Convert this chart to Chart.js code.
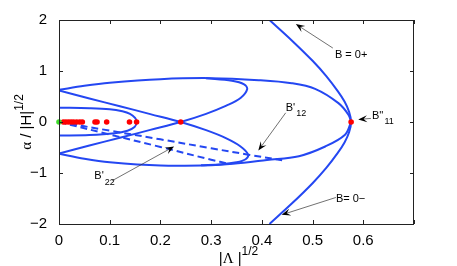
<!DOCTYPE html>
<html>
<head>
<meta charset="utf-8">
<script src="https://cdn.jsdelivr.net/npm/chart.js@4"></script>
<style>
  html, body { margin: 0; padding: 0; background: #fff; }
</style>
</head>
<body>
<canvas id="chart" width="457" height="266"></canvas>
<script>
// curves, x = |Lambda|^(1/2), y = alpha/|H|^(1/2)
const bZeroX = [0.415, 0.459, 0.500, 0.527, 0.550, 0.563, 0.572, 0.576, 0.572, 0.563, 0.550, 0.527, 0.500, 0.459, 0.415];
const bZeroY = [2.0, 1.6, 1.2, 0.9, 0.6, 0.4, 0.2, 0, -0.2, -0.4, -0.6, -0.9, -1.2, -1.6, -2.0];

const lensUpX = [0, 0.05, 0.1, 0.2, 0.3, 0.394, 0.459, 0.505, 0.551, 0.571, 0.576];
const lensUpY = [0.63, 0.71, 0.77, 0.84, 0.86, 0.82, 0.76, 0.65, 0.37, 0.14, 0];

const lensLowX = [0, 0.05, 0.1, 0.2, 0.3, 0.343, 0.41, 0.473, 0.525, 0.564, 0.576];
const lensLowY = [-0.62, -0.72, -0.79, -0.855, -0.85, -0.82, -0.745, -0.67, -0.48, -0.25, 0];

const crossDownX = [0, 0.06, 0.12, 0.18, 0.24, 0.29, 0.33, 0.358, 0.373, 0.368, 0.35, 0.32, 0.28];
const crossDownY = [0.62, 0.46, 0.31, 0.155, 0, -0.16, -0.32, -0.48, -0.64, -0.73, -0.79, -0.83, -0.85];

const crossUpX = [0, 0.06, 0.12, 0.18, 0.24, 0.29, 0.33, 0.358, 0.371, 0.365, 0.341, 0.29];
const crossUpY = [-0.62, -0.46, -0.31, -0.155, 0, 0.16, 0.32, 0.47, 0.64, 0.74, 0.81, 0.86];

const innerX = [0, 0.06, 0.1, 0.125, 0.14, 0.15, 0.153, 0.149, 0.135, 0.11, 0.06, 0];
const innerY = [0.28, 0.27, 0.25, 0.21, 0.16, 0.08, 0, -0.1, -0.17, -0.22, -0.255, -0.265];

const dashUpX = [0, 0.1, 0.2, 0.3, 0.373, 0.44];
const dashUpY = [0, -0.17, -0.34, -0.515, -0.64, -0.75];

const dashLowX = [0, 0.1, 0.2, 0.3, 0.335];
const dashLowY = [0, -0.245, -0.49, -0.74, -0.82];

const bifurcX = [0.0085, 0.0137, 0.019, 0.024, 0.029, 0.035, 0.041, 0.046, 0.071, 0.075, 0.094, 0.139, 0.153, 0.240, 0.576];
const bifurcY = [0, 0, 0, 0, 0, 0, 0, 0, 0, 0, 0, 0, 0, 0, 0];
const originX = [0];
const originY = [0];

const xTicks = [0, 0.1, 0.2, 0.3, 0.4, 0.5, 0.6, 0.7];
const yTicks = [-2, -1, 0, 1, 2];

// labels with arrows: text position, arrow tail, arrow head (data units)
const notes = [
    {main: 'B = 0+', sub: '', at: [0.544, 1.31], tail: [0.540, 1.45], head: [0.467, 1.92]},
    {main: "B'", sub: '12', at: [0.447, 0.28], tail: [0.447, 0.18], head: [0.393, -0.56]},
    {main: "B''", sub: '11', at: [0.617, 0.12], tail: [0.615, 0.07], head: [0.590, 0.05]},
    {main: 'B= 0\u2212', sub: '', at: [0.546, -1.50], tail: [0.546, -1.48], head: [0.439, -1.82]},
    {main: "B'", sub: '22', at: [0.0696, -1.06], tail: [0.105, -1.15], head: [0.227, -0.48]}
];

const blue = '#2447f2';
const sans = '"Liberation Sans", Arial, Helvetica, sans-serif';
const serif = '"Liberation Serif", "Times New Roman", serif';

function pts(xs, ys) {
    return xs.map((x, i) => ({x: x, y: ys[i]}));
}

function curve(xs, ys, dashed) {
    return {
        data: pts(xs, ys),
        showLine: true,
        borderColor: blue,
        borderWidth: 2,
        borderDash: dashed ? [7, 4] : [],
        pointRadius: 0,
        tension: 0.35,
        fill: false,
        order: 2
    };
}

const framePlugin = {
    id: 'frame',
    afterDatasetsDraw(chart) {
        const {ctx, chartArea: a, scales: {x, y}} = chart;
        ctx.save();
        ctx.strokeStyle = '#222';
        ctx.lineWidth = 1;
        ctx.strokeRect(a.left + 0.5, a.top + 0.5, a.right - a.left - 1, a.bottom - a.top);
        ctx.beginPath();
        xTicks.forEach(v => {
            const px = Math.round(x.getPixelForValue(v)) + 0.5;
            ctx.moveTo(px, a.bottom);
            ctx.lineTo(px, a.bottom - 4);
            ctx.moveTo(px, a.top);
            ctx.lineTo(px, a.top + 4);
        });
        yTicks.forEach(v => {
            const py = Math.round(y.getPixelForValue(v)) + 0.5;
            ctx.moveTo(a.left, py);
            ctx.lineTo(a.left + 4, py);
            ctx.moveTo(a.right, py);
            ctx.lineTo(a.right - 4, py);
        });
        ctx.stroke();
        ctx.restore();
    }
};

const titlePlugin = {
    id: 'titles',
    afterDraw(chart) {
        const {ctx, chartArea: a} = chart;
        ctx.save();
        ctx.fillStyle = '#000';
        ctx.textBaseline = 'alphabetic';
        ctx.textAlign = 'left';

        // x title: |Λ |^{1/2}
        const mainX = [['|', sans], ['\u039B', serif], [' |', sans]];
        let w = 0;
        mainX.forEach(p => { ctx.font = '15px ' + p[1]; w += ctx.measureText(p[0]).width; });
        ctx.font = '12px ' + sans;
        const supW = ctx.measureText('1/2').width;
        let cx = (a.left + a.right) / 2 - (w + supW) / 2 + 2;
        mainX.forEach(p => {
            ctx.font = '15px ' + p[1];
            ctx.fillText(p[0], cx, 263);
            cx += ctx.measureText(p[0]).width;
        });
        ctx.font = '12px ' + sans;
        ctx.fillText('1/2', cx, 255);

        // y title: α / |H|^{1/2}
        ctx.translate(31, (a.top + a.bottom) / 2);
        ctx.rotate(-Math.PI / 2);
        const mainY = [['\u03B1', serif], [' / |H|', sans]];
        w = 0;
        mainY.forEach(p => { ctx.font = '15px ' + p[1]; w += ctx.measureText(p[0]).width; });
        let cy = -(w + supW) / 2;
        mainY.forEach(p => {
            ctx.font = '15px ' + p[1];
            ctx.fillText(p[0], cy, 0);
            cy += ctx.measureText(p[0]).width;
        });
        ctx.font = '12px ' + sans;
        ctx.fillText('1/2', cy, -8);
        ctx.restore();
    }
};

const notePlugin = {
    id: 'notes',
    afterDraw(chart) {
        const {ctx, scales: {x, y}} = chart;
        ctx.save();
        notes.forEach(n => {
            const tx = x.getPixelForValue(n.tail[0]), ty = y.getPixelForValue(n.tail[1]);
            const hx = x.getPixelForValue(n.head[0]), hy = y.getPixelForValue(n.head[1]);
            const ang = Math.atan2(hy - ty, hx - tx);
            ctx.strokeStyle = '#333';
            ctx.lineWidth = 0.7;
            ctx.beginPath();
            ctx.moveTo(tx, ty);
            ctx.lineTo(hx - 5 * Math.cos(ang), hy - 5 * Math.sin(ang));
            ctx.stroke();
            // arrow head
            const len = 9, half = 3.5;
            const bx = hx - len * Math.cos(ang), by = hy - len * Math.sin(ang);
            const nx = hx - len * 0.6 * Math.cos(ang), ny = hy - len * 0.6 * Math.sin(ang);
            ctx.fillStyle = '#000';
            ctx.beginPath();
            ctx.moveTo(hx, hy);
            ctx.lineTo(bx - half * Math.sin(ang), by + half * Math.cos(ang));
            ctx.lineTo(nx, ny);
            ctx.lineTo(bx + half * Math.sin(ang), by - half * Math.cos(ang));
            ctx.closePath();
            ctx.fill();

            const px = x.getPixelForValue(n.at[0]), py = y.getPixelForValue(n.at[1]);
            ctx.fillStyle = '#000';
            ctx.textBaseline = 'middle';
            ctx.textAlign = 'left';
            ctx.font = '11px ' + sans;
            ctx.fillText(n.main, px, py);
            if (n.sub) {
                const mw = ctx.measureText(n.main).width;
                ctx.font = '9px ' + sans;
                ctx.fillText(n.sub, px + mw + 1, py + 6);
            }
        });
        ctx.restore();
    }
};

new Chart(document.getElementById('chart'), {
    type: 'scatter',
    data: {
        datasets: [
            {data: pts(originX, originY), pointRadius: 2.8, pointBackgroundColor: '#3ddc2a', pointBorderWidth: 0, clip: false, order: 0},
            {data: pts(bifurcX, bifurcY), pointRadius: 2.8, pointBackgroundColor: '#ff0000', pointBorderWidth: 0, clip: false, order: 1},
            curve(bZeroX, bZeroY, false),
            curve(lensUpX, lensUpY, false),
            curve(lensLowX, lensLowY, false),
            curve(crossDownX, crossDownY, false),
            curve(crossUpX, crossUpY, false),
            curve(innerX, innerY, false),
            curve(dashUpX, dashUpY, true),
            curve(dashLowX, dashLowY, true)
        ]
    },
    options: {
        responsive: false,
        animation: false,
        devicePixelRatio: 1,
        layout: {padding: {top: 20, right: 43, left: 0, bottom: 0}},
        plugins: {legend: {display: false}, tooltip: {enabled: false}},
        scales: {
            x: {
                type: 'linear',
                min: 0,
                max: 0.7,
                afterBuildTicks: scale => { scale.ticks = xTicks.map(v => ({value: v})); },
                afterFit: scale => { scale.height = 42; },
                grid: {display: false},
                border: {display: false},
                ticks: {
                    color: '#000',
                    font: {family: sans, size: 15},
                    padding: 0,
                    maxRotation: 0,
                    callback: v => (v > 0.65 ? '' : (v === 0 ? '0' : v.toFixed(1)))
                }
            },
            y: {
                type: 'linear',
                min: -2,
                max: 2,
                afterBuildTicks: scale => { scale.ticks = yTicks.map(v => ({value: v})); },
                afterFit: scale => { scale.width = 59; },
                grid: {display: false},
                border: {display: false},
                ticks: {
                    color: '#000',
                    font: {family: sans, size: 15},
                    padding: 4,
                    callback: v => (v < 0 ? '\u2212' + Math.abs(v) : String(v))
                }
            }
        }
    },
    plugins: [framePlugin, titlePlugin, notePlugin]
});
</script>
</body>
</html>
